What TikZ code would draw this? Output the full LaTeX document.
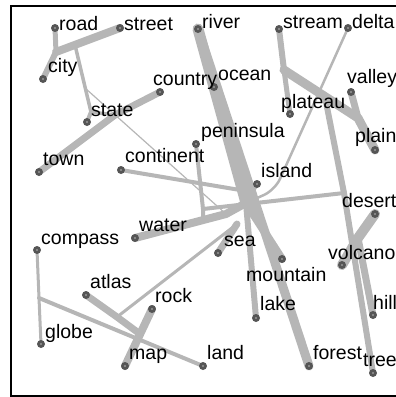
\documentclass[tikz,border=0pt]{standalone}
\usepackage{fontspec}
\setmainfont{Liberation Sans}

\definecolor{edgegray}{RGB}{182,182,182}
\definecolor{dotgray}{RGB}{85,85,85}

\pgfdeclarelayer{edges}
\pgfsetlayers{edges,main}

\tikzset{
  edge/.style={draw=edgegray, line cap=round, line join=round},
  dot/.style={circle, fill=dotgray, minimum size=8pt, inner sep=0pt,
    path picture={\fill[gray!80] (path picture bounding box.center) circle (1.2pt);}},
  word/.style={anchor=base west, inner sep=0pt, font=\fontsize{19.5}{20}\selectfont},
}

\begin{document}
\begin{tikzpicture}[x=1pt, y=-1pt]

\useasboundingbox (0,0) rectangle (396,397);

% Frame
\draw[line width=2pt] (396,5.7) -- (10.8,5.7) -- (10.8,396) -- (396,396);

% Words (dots)
\node[dot] (road) at (55,28) {};
\node[dot] (street) at (120,28) {};
\node[dot] (river) at (198,29) {};
\node[dot] (stream) at (279,29) {};
\node[dot] (delta) at (348,28) {};
\node[dot] (city) at (43,79) {};
\node[dot] (ocean) at (214,87) {};
\node[dot] (country) at (160,92) {};
\node[dot] (valley) at (351,92) {};
\node[dot] (plateau) at (290,114) {};
\node[dot] (state) at (87,122) {};
\node[dot] (peninsula) at (196,144) {};
\node[dot] (plain) at (375,150) {};
\node[dot] (continent) at (121,170) {};
\node[dot] (town) at (39,172) {};
\node[dot] (island) at (257,184) {};
\node[dot] (desert) at (375,214) {};
\node[dot] (water) at (135,238) {};
\node[dot] (compass) at (37,250) {};
\node[dot] (sea) at (218,253) {};
\node[dot] (mountain) at (282,259) {};
\node[dot] (volcano) at (342,265) {};
\node[dot] (atlas) at (86,295) {};
\node[dot] (rock) at (152,309) {};
\node[dot] (hill) at (373,315) {};
\node[dot] (lake) at (256,318) {};
\node[dot] (globe) at (41,344) {};
\node[dot] (map) at (125,366) {};
\node[dot] (land) at (203,366) {};
\node[dot] (forest) at (309,366) {};
\node[dot] (tree) at (373,373) {};

% Bundle points
\coordinate (jcity) at (56,52);
\coordinate (jstreet) at (75,45);
\coordinate (kthin) at (85,88);
\coordinate (kstate) at (91,112);
\coordinate (jtown) at (115,115);
\coordinate (hub) at (246,203);
\coordinate (hubw) at (226,214);
\coordinate (hubn) at (240,190);
\coordinate (hubs) at (237,224);
\coordinate (kwest) at (203,209);
\coordinate (kpen) at (203,221);
\coordinate (kdelta) at (275,190);
\coordinate (kdesert) at (344,193);
\coordinate (jstream) at (284,70);
\coordinate (kvert) at (325,97);
\coordinate (jplain) at (358,118);
\coordinate (jdesert) at (358,238);
\coordinate (kglobe) at (39,298);
\coordinate (katlas) at (117,317);
\coordinate (jmap) at (140,334);

\begin{pgfonlayer}{edges}
  % Top left
  \draw[edge, line width=5pt] (road.center) -- (jcity);
  \draw[edge, line width=8pt] (street.center) -- (jcity);
  \draw[edge, line width=6pt] (jcity) -- (city.center);
  \draw[edge, line width=3.5pt] (jstreet) -- (kstate) -- (jtown);
  \draw[edge, line width=4pt] (state.center) -- (kstate);
  \draw[edge, line width=7pt] (country.center) -- (jtown) -- (town.center);
  \draw[edge, line width=1.2pt] (kthin) -- (hubw);

  % Centre
  \draw[edge, line width=11pt] (river.center) -- (hub);
  \draw[edge, line width=9pt] (river.center) -- (forest.center);
  \draw[edge, line width=9pt] (ocean.center) -- (hub);
  \draw[edge, line width=8pt] (water.center) -- (hubw) -- (hub);
  \draw[edge, line width=4pt] (continent.center) -- (hubn);
  \draw[edge, line width=4pt] (peninsula.center) -- (kwest) -- (kpen);
  \draw[edge, line width=4pt] (kwest) -- (kdesert);
  \draw[edge, line width=4pt] (island.center) -- (hub);
  \draw[edge, line width=7pt] (hubs) -- (sea.center);
  \draw[edge, line width=6pt] (hub) -- (lake.center);
  \draw[edge, line width=8pt] (hub) -- (mountain.center);
  \draw[edge, line width=2.5pt, rounded corners=12pt] (delta.center) -- (kdelta) -- (hub);
  \draw[edge, line width=3pt] (katlas) -- (hubs);

  % Right
  \draw[edge, line width=6pt] (stream.center) -- (jstream);
  \draw[edge, line width=5pt] (jstream) -- (plateau.center);
  \draw[edge, line width=9pt] (jstream) -- (jplain) -- (plain.center);
  \draw[edge, line width=7pt] (valley.center) -- (jplain);
  \draw[edge, line width=6pt] (kvert) -- (kdesert) -- (tree.center);
  \draw[edge, line width=10pt] (desert.center) -- (jdesert) -- (volcano.center);
  \draw[edge, line width=7pt] (hill.center) -- (jdesert);

  % Bottom left
  \draw[edge, line width=3pt] (compass.center) -- (kglobe) -- (globe.center);
  \draw[edge, line width=4pt] (kglobe) -- (land.center);
  \draw[edge, line width=7pt] (atlas.center) -- (katlas) -- (jmap);
  \draw[edge, line width=8pt] (rock.center) -- (map.center);
\end{pgfonlayer}

% Labels
\node[word] (roadtxt) at (59,30) {road};
\node[word] (streettxt) at (124,30) {street};
\node[word] (rivertxt) at (202,28) {river};
\node[word] (streamtxt) at (283,28) {stream};
\node[word] (deltatxt) at (352,28) {delta};
\node[word] (citytxt) at (48,72) {city};
\node[word] (countrytxt) at (153,85) {country};
\node[word] (oceantxt) at (218,80) {ocean};
\node[word] (valleytxt) at (347,83) {valley};
\node[word] (plateautxt) at (281,108) {plateau};
\node[word] (statetxt) at (91,116) {state};
\node[word] (peninsulatxt) at (201,137) {peninsula};
\node[word] (plaintxt) at (355,142) {plain};
\node[word] (continenttxt) at (125,162) {continent};
\node[word] (towntxt) at (43,165) {town};
\node[word] (islandtxt) at (261,177) {island};
\node[word] (deserttxt) at (342,207) {desert};
\node[word] (watertxt) at (139,231) {water};
\node[word] (compasstxt) at (41,244) {compass};
\node[word] (seatxt) at (224,246) {sea};
\node[word] (volcanotxt) at (328,259) {volcano};
\node[word] (mountaintxt) at (246,281) {mountain};
\node[word] (atlastxt) at (90,288) {atlas};
\node[word] (rocktxt) at (155,302) {rock};
\node[word] (laketxt) at (260,310) {lake};
\node[word] (hilltxt) at (373,309) {hill};
\node[word] (globetxt) at (45,338) {globe};
\node[word] (maptxt) at (129,359) {map};
\node[word] (landtxt) at (207,359) {land};
\node[word] (foresttxt) at (313,359) {forest};
\node[word] (treetxt) at (363,366) {tree};

\end{tikzpicture}
\end{document}
